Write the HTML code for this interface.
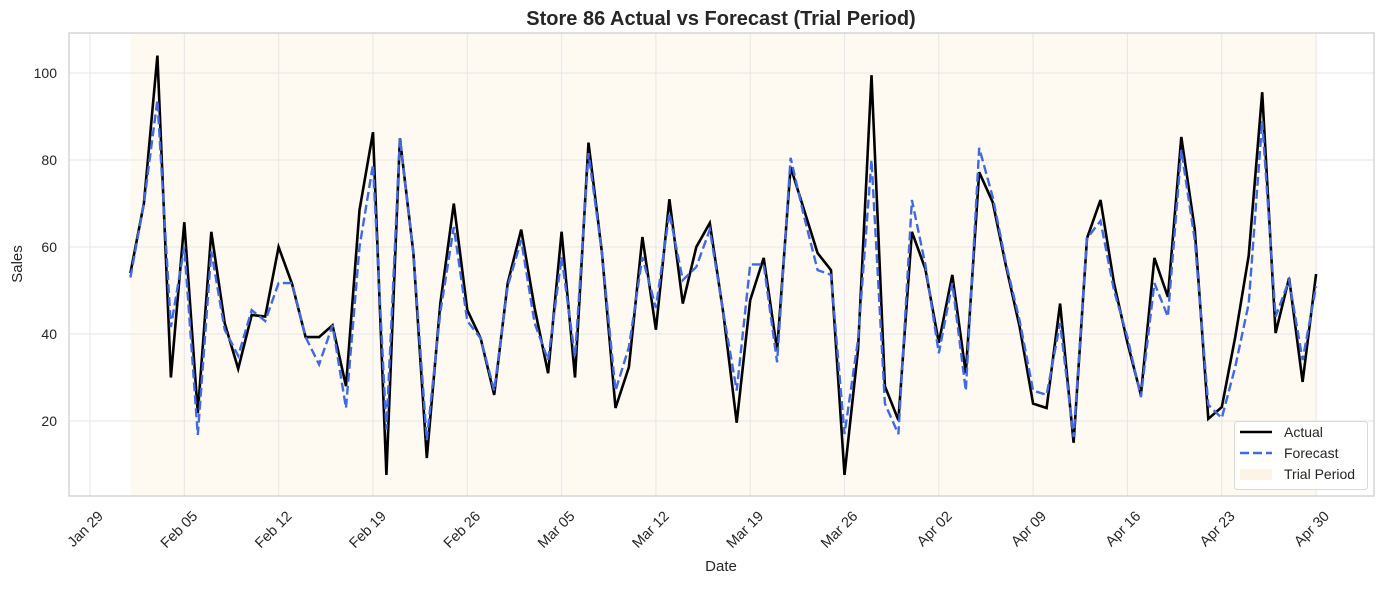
<!DOCTYPE html>
<html><head><meta charset="utf-8"><style>
body{margin:0;background:#fff;font-family:"Liberation Sans",Arial,sans-serif}
svg text{font-family:"Liberation Sans",Arial,sans-serif;fill:#262626}
</style></head><body>
<svg id="chart" width="1384" height="584" viewBox="0 0 1384 584" xmlns="http://www.w3.org/2000/svg">
<rect width="1384" height="584" fill="#fff"/>
<text x="721" y="25" text-anchor="middle" font-size="20" font-weight="bold">Store 86 Actual vs Forecast (Trial Period)</text>
<text x="721" y="571" text-anchor="middle" font-size="15">Date</text>
<text transform="translate(22,264) rotate(-90)" text-anchor="middle" font-size="15">Sales</text>
<g id="plot"></g>
</svg>
<script>
const actual=[54,70,104,30,65.7,21.8,63.5,42.5,32,44.4,44,60,51.5,39.3,39.3,42,28,68.5,86.4,7.6,85,58.6,11.5,47,70,45.5,39,26,51.7,64,46,31,63.5,30,84,58.6,23,32.4,62.3,41,71,47,60,65.5,44.8,19.6,47.8,57.5,36.3,78.4,68.5,58.6,54.7,7.6,36.3,99.5,28,20.2,63.5,55,38,53.6,31,77.2,70.3,55.4,41.6,24,23,47,15,62,70.8,51.7,38,26,57.5,48.5,85.3,64,20.5,23.2,39.3,58,95.6,40.2,52.9,29,53.8];
const forecast=[53,70,93.8,41.6,60,16.8,59,41,35,45.5,43,51.7,51.7,39.3,33,42,23,60,79,18,85,58.6,15.6,45,64.6,43,39,27,51,61.6,42.5,34,57.7,34.7,81.6,58.6,27,37,57.7,46,67.8,52.4,55.4,64,45,27,56,56,33.5,80.5,67,54.7,53.6,17,38.6,80,24,17,70.8,56,35.6,51.7,27,82.8,71.5,56,43,27,26,42.5,16.3,62,66,50,39.3,25.5,51.7,44,82.3,61.6,23.7,20.7,32.4,47,89,44,52.4,34,51];
const yTicks=[20,40,60,80,100];
const xTickLabels=["Jan 29","Feb 05","Feb 12","Feb 19","Feb 26","Mar 05","Mar 12","Mar 19","Mar 26","Apr 02","Apr 09","Apr 16","Apr 23","Apr 30"];
const startOffset=3; // Feb 1 relative to Jan 29
const L=69,R=1374,T=33,B=496;
const dMin=-1.56,dMax=95.3,vMin=2.76,vMax=109.2;
const X=d=>L+(d-dMin)/(dMax-dMin)*(R-L);
const Y=v=>B-(v-vMin)/(vMax-vMin)*(B-T);
const NS="http://www.w3.org/2000/svg";
const g=document.getElementById('plot');
function mk(t,a){const e=document.createElementNS(NS,t);for(const k in a)e.setAttribute(k,a[k]);g.appendChild(e);return e;}
const bg=mk('rect',{x:L,y:T,width:R-L,height:B-T,fill:'#fff'});


const n=actual.length;
const sh=mk('rect',{x:X(startOffset),y:T,width:X(startOffset+n-1)-X(startOffset),height:B-T,fill:'#fefaf2'});


yTicks.forEach(v=>{
  const l=mk('line',{x1:L,x2:R,y1:Y(v),y2:Y(v),stroke:'#e6e6e6','stroke-width':1});
  
  
  const t=mk('text',{x:L-12,y:Y(v)+5,'text-anchor':'end','font-size':14});
  t.textContent=v;
  
  
});
xTickLabels.forEach((s,i)=>{
  const x=X(i*7);
  const l=mk('line',{x1:x,x2:x,y1:T,y2:B,stroke:'#e6e6e6','stroke-width':1});
  
  
  const t=mk('text',{x:0,y:0,'text-anchor':'end','font-size':14.5,transform:`translate(${x+14},${B+21}) rotate(-45)`});
  t.textContent=s;
  
  
});
const pts=a=>a.map((v,i)=>X(startOffset+i).toFixed(1)+','+Y(v).toFixed(1)).join(' ');
const la=mk('polyline',{points:pts(actual),fill:'none',stroke:'#000','stroke-width':2.6,'stroke-linejoin':'miter'});


const lf=mk('polyline',{points:pts(forecast),fill:'none',stroke:'#4169e1','stroke-width':2.4,'stroke-dasharray':'9,4'});


const fr=mk('rect',{x:L,y:T,width:R-L,height:B-T,fill:'none',stroke:'#cccccc','stroke-width':1.2});


// legend
const lg=mk('rect',{x:1234.5,y:421.5,width:133,height:68,rx:3,fill:'#fff','fill-opacity':0.85,stroke:'#d9d9d9'});


const e1=mk('line',{x1:1240,x2:1272,y1:432,y2:432,stroke:'#000','stroke-width':2.6});


const t1=mk('text',{x:1284,y:437,'font-size':14});t1.textContent='Actual';


const e2=mk('line',{x1:1240,x2:1272,y1:453,y2:453,stroke:'#4169e1','stroke-width':2.4,'stroke-dasharray':'9,4'});


const t2=mk('text',{x:1284,y:458,'font-size':14});t2.textContent='Forecast';


const e3=mk('rect',{x:1240,y:469,width:32,height:11,fill:'#fdf3e6'});


const t3=mk('text',{x:1284,y:479,'font-size':14});t3.textContent='Trial Period';


</script>
</body></html>
